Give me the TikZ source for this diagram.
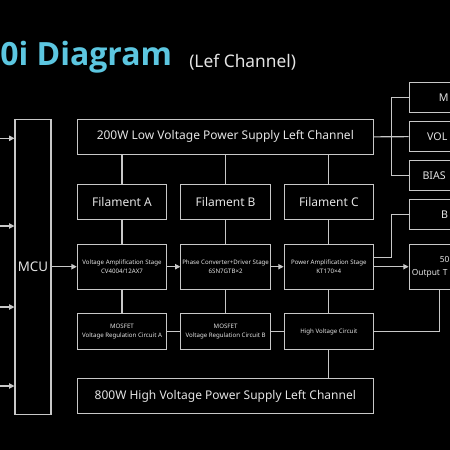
\documentclass[tikz,border=0pt]{standalone}
\usepackage{fontspec}
\setmainfont{Noto Sans}
\newfontfamily\titlefont{Open Sans}
\usetikzlibrary{arrows.meta, positioning, calc}
\definecolor{linegray}{HTML}{C8C8C8}
\definecolor{textgray}{HTML}{E4E4E4}
\definecolor{titlecyan}{HTML}{5CC6E0}

\begin{document}
\begin{tikzpicture}[x=0.75pt, y=-0.75pt,
    box/.style={draw=linegray, line width=0.8pt, text=textgray, align=center, inner sep=0pt, minimum width=67pt, font=\fontsize{9}{10}\selectfont},
    wide/.style={box, minimum width=222pt, minimum height=26.3pt},
    small/.style={box, minimum height=26.5pt},
    stage/.style={box, minimum height=33.5pt, font=\fontsize{4.6}{7.1}\selectfont},
    rbox/.style={box, minimum width=53pt, text width=53pt, align=left, minimum height=22.5pt, font=\fontsize{8}{9}\selectfont},
    link/.style={draw=linegray, line width=0.8pt},
    arrow/.style={link, -{Triangle[length=4pt, width=4pt]}}
  ]
    \path[use as bounding box, fill=black] (0,0) rectangle (450,450);

    % title
    \node[anchor=base west, inner sep=0pt, text=titlecyan, font=\titlefont\bfseries\fontsize{24}{24}\selectfont] (title) at (0,65) {0i Diagram};
    \node[anchor=base west, inner sep=0pt, text=textgray, font=\fontsize{13}{13}\selectfont] (sub) at (189,67.5) {(Lef Channel)};

    % main blocks
    \node[box, minimum width=27pt, minimum height=221pt, font=\fontsize{10}{10}\selectfont] (mcu) at (33,266.7) {MCU};
    \node[wide] (lvps) at (225.3,136.8) {200W Low Voltage Power Supply Left Channel};
    \node[small] (filA) at (122,201.7) {Filament A};
    \node[small] (filB) at (225.6,201.7) {Filament B};
    \node[small] (filC) at (328.8,201.7) {Filament C};
    \node[stage] (vamp) at (122,266.7) {Voltage Amplification Stage\\CV4004/12AX7};
    \node[stage] (phase) at (225.6,266.7) {Phase Converter+Driver Stage\\6SN7GTB×2};
    \node[stage] (pamp) at (328.8,266.7) {Power Amplification Stage\\KT170×4};
    \node[stage, minimum height=26.5pt] (mosA) at (122,331.5) {MOSFET\\Voltage Regulation Circuit A};
    \node[stage, minimum height=26.5pt] (mosB) at (225.6,331.5) {MOSFET\\Voltage Regulation Circuit B};
    \node[stage, minimum height=26.5pt] (hvc) at (328.8,331.5) {High Voltage Circuit};
    \node[wide] (hvps) at (225.3,396.3) {800W High Voltage Power Supply Left Channel};

    % right column, cut by the page edge
    \node[rbox] (mbox) at (444.5,97.7) {\hspace*{22.3pt}M};
    \node[rbox] (vbox) at (444.5,136.7) {\hspace*{13.5pt}VOL};
    \node[rbox] (bbox) at (444.5,175.7) {\hspace*{10pt}BIAS};
    \node[rbox] (b2box) at (444.5,214.7) {\hspace*{24pt}B};
    \node[rbox, minimum height=33.5pt, font=\fontsize{6.3}{10}\selectfont] (otr) at (444.5,266.7) {\hspace*{23pt}50\\\hspace*{2pt}Output T};

    % inputs to the MCU
    \foreach \y [count=\i] in {138.3,226,307,386}
      \coordinate (in\i) at (-1,\y);
    \foreach \i in {1,...,4}
      \draw[arrow] (in\i) -- (in\i -| mcu.west);
    \draw[arrow] (mcu.east |- vamp.west) -- (vamp.west);

    % supply and filament links
    \foreach \n in {filA,filB,filC}
      \draw[link] (\n.north |- lvps.south) -- (\n.north);
    \draw[link] (filA) -- (vamp);
    \draw[link] (filB) -- (phase);
    \draw[link] (filC) -- (pamp);
    \draw[link] (vamp) -- (mosA);
    \draw[link] (phase) -- (mosB);
    \draw[link] (pamp) -- (hvc);
    \draw[link] (mosA) -- (mosB);
    \draw[link] (mosB) -- (hvc);
    \draw[link] (hvc) -- (hvc.south |- hvps.north);

    % signal path
    \draw[arrow] (vamp) -- (phase);
    \draw[arrow] (phase) -- (pamp);
    \draw[arrow] (pamp) -- (otr);

    % right side links
    \coordinate (bus) at (391.7,0);
    \draw[link] (lvps.east) -- (vbox.west);
    \draw[link] (mbox.west) -| (bus |- bbox.west) -- (bbox.west);
    \draw[link] ($(pamp.east)+(0,-9)$) -| (bus |- b2box.west) -- (b2box.west);
    \draw[link] (hvc.east) -| ($(otr.south)+(-5.2,0)$);
  \end{tikzpicture}
\end{document}
